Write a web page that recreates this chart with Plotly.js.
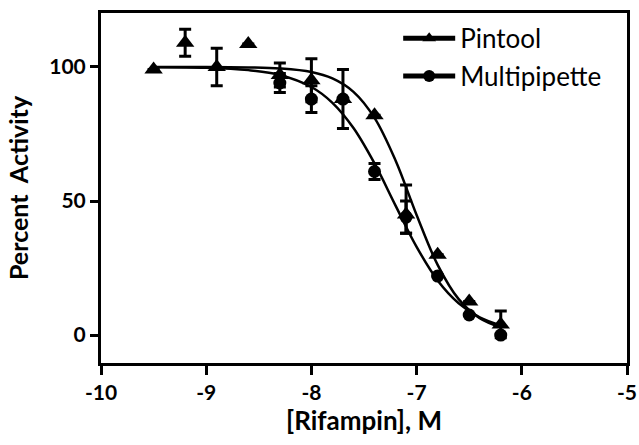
<!DOCTYPE html>
<html>
<head>
<meta charset="utf-8">
<script src="https://cdn.plot.ly/plotly-3.0.1.min.js"></script>
<style>html,body{margin:0;padding:0;background:#fff;}#chart{width:639px;height:445px;}</style>
</head>
<body>
<div id="chart"></div>
<script>
// Measured data (log10 [Rifampin], M vs Percent Activity)
const pintoolX        = [-9.5, -9.2, -8.9, -8.6, -8.3, -8.0, -7.7, -7.4, -7.1, -6.8, -6.5, -6.2];
const pintoolY        = [99, 109, 100, 108.5, 97, 95, 88, 82, 45, 30, 12.5, 4];
const pintoolErrUp    = [0, 5, 7, 0, 4.5, 8, 0, 0, 11, 0, 0, 5];
const pintoolErrDown  = [0, 5, 7, 0, 4.5, 8, 0, 0, 7, 0, 0, 5];

const multiX   = [-8.3, -8.0, -7.7, -7.4, -7.1, -6.8, -6.5, -6.2];
const multiY   = [94, 88, 88, 61, 44, 22, 7.5, 0];
const multiErr = [3.5, 5, 11, 3, 6, 0, 0, 0];

// Fitted curves
const curveX      = [-9.5, -9.0, -8.6, -8.3, -8.0, -7.8, -7.6, -7.4, -7.2, -7.0, -6.8, -6.6, -6.4, -6.2];
const pintoolFit  = [100, 100, 99.8, 99.4, 98.1, 95.7, 90.7, 81.0, 65.1, 44.8, 26.2, 13.4, 6.3, 2.9];
const multiFit    = [99.9, 99.7, 98.8, 97.0, 92.5, 86.6, 77.2, 64.0, 48.3, 32.9, 20.4, 11.9, 6.6, 3.6];

const xTicks = [-10, -9, -8, -7, -6, -5];
const yTicks = [0, 50, 100];

const black = '#000000';

const traces = [
  {x: curveX, y: pintoolFit, mode: 'lines+markers', name: 'Pintool', legendgroup: 'a',
   line: {color: black, width: 2.5, shape: 'spline'},
   marker: {symbol: 'triangle-up', size: 0.001, color: black}, hoverinfo: 'skip'},
  {x: curveX, y: multiFit, mode: 'lines+markers', name: 'Multipipette', legendgroup: 'b',
   line: {color: black, width: 2.5, shape: 'spline'},
   marker: {symbol: 'circle', size: 0.001, color: black}, hoverinfo: 'skip'},
  {x: pintoolX, y: pintoolY, mode: 'markers', name: 'Pintool data', showlegend: false,
   marker: {symbol: 'triangle-up', size: 16, color: black},
   error_y: {type: 'data', array: pintoolErrUp, arrayminus: pintoolErrDown, symmetric: false,
             visible: true, color: black, thickness: 3, width: 6}},
  {x: multiX, y: multiY, mode: 'markers', name: 'Multipipette data', showlegend: false,
   marker: {symbol: 'circle', size: 13, color: black},
   error_y: {type: 'data', array: multiErr, visible: true, color: black, thickness: 3, width: 6}}
];

const layout = {
  width: 639, height: 445,
  margin: {l: 101, r: 12, t: 13, b: 82},
  paper_bgcolor: '#fff', plot_bgcolor: '#fff',
  font: {family: 'Lato, "Open Sans", sans-serif', color: black},
  showlegend: true,
  legend: {x: 0.565, y: 0.995, xanchor: 'left', yanchor: 'top', bgcolor: 'rgba(0,0,0,0)',
           font: {size: 26, family: 'Lato, sans-serif', color: black},
           itemsizing: 'constant', itemwidth: 52, traceorder: 'grouped', tracegroupgap: 1},
  xaxis: {range: [-10, -5], tickvals: xTicks, ticktext: xTicks.map(String),
          showline: true, linewidth: 3, linecolor: black, mirror: true,
          ticks: 'outside', ticklen: 9, tickwidth: 3, tickcolor: black,
          showgrid: false, zeroline: false,
          tickfont: {size: 21, family: 'Lato, sans-serif', weight: 'bold', color: black},
          title: {text: '<b>[Rifampin], M</b>', font: {size: 26, family: 'Lato, sans-serif', color: black}, standoff: 8}},
  yaxis: {range: [-10.4, 120.1], tickvals: yTicks, ticktext: yTicks.map(String),
          showline: true, linewidth: 3, linecolor: black, mirror: true,
          ticks: 'outside', ticklen: 8, tickwidth: 3, tickcolor: black,
          showgrid: false, zeroline: false,
          tickfont: {size: 21, family: 'Lato, sans-serif', weight: 'bold', color: black},
          title: {text: '<b>Percent\u00A0 Activity</b>', font: {size: 25, family: 'Lato, sans-serif', color: black}, standoff: 14}}
};

Plotly.newPlot('chart', traces, layout, {staticPlot: true, displayModeBar: false});
</script>
</body>
</html>
